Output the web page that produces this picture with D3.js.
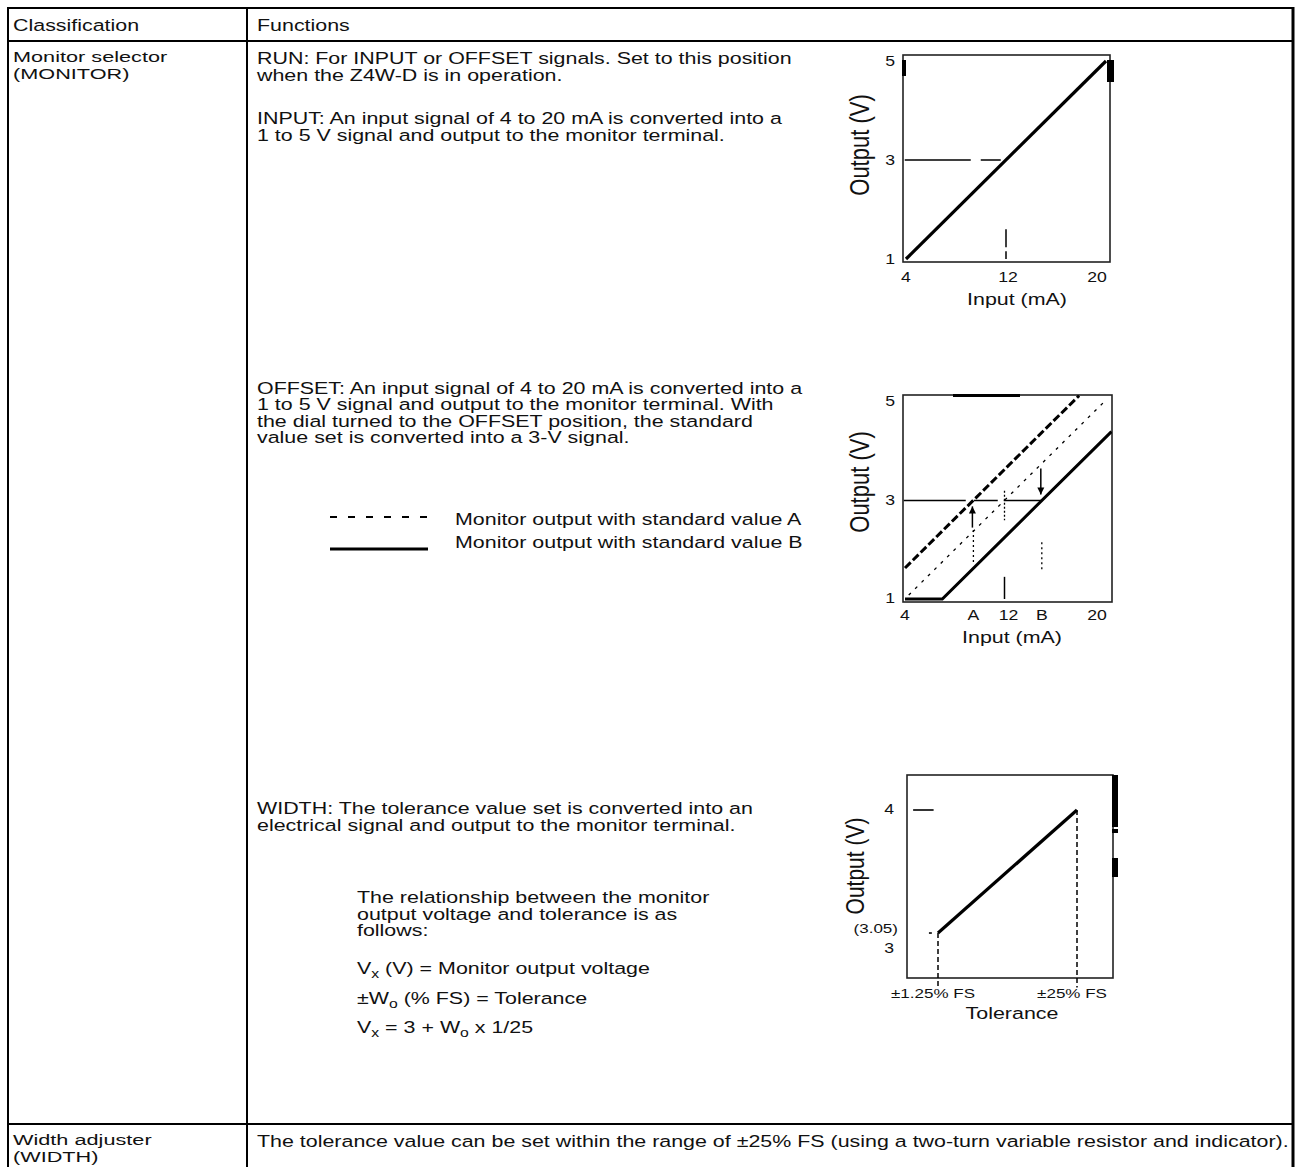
<!DOCTYPE html>
<html>
<head>
<meta charset="utf-8">
<script src="https://cdn.jsdelivr.net/npm/d3@7"></script>
<style>
  body { margin: 0; background: #fff; }
  text { font-family: "Liberation Sans", Arial, sans-serif; fill: #111; }
</style>
</head>
<body>
<div id="chart"></div>
<script>
// table text
var headers = ["Classification", "Functions"];
var row1Label = ["Monitor selector", "(MONITOR)"];
var row2Label = ["Width adjuster", "(WIDTH)"];
var runText = ["RUN: For INPUT or OFFSET signals. Set to this position", "when the Z4W-D is in operation."];
var inputText = ["INPUT: An input signal of 4 to 20 mA is converted into a", "1 to 5 V signal and output to the monitor terminal."];
var offsetText = ["OFFSET: An input signal of 4 to 20 mA is converted into a",
  "1 to 5 V signal and output to the monitor terminal. With",
  "the dial turned to the OFFSET position, the standard",
  "value set is converted into a 3-V signal."];
var legendLabels = ["Monitor output with standard value A", "Monitor output with standard value B"];
var widthText = ["WIDTH: The tolerance value set is converted into an", "electrical signal and output to the monitor terminal."];
var relationText = ["The relationship between the monitor", "output voltage and tolerance is as", "follows:"];
var adjusterText = "The tolerance value can be set within the range of \u00b125% FS (using a two-turn variable resistor and indicator).";

// chart 1 : INPUT
var inputTicks = [4, 12, 20];
var outputTicks = [1, 3, 5];
var runLine = [[4, 1], [20, 5]];

// chart 2 : OFFSET
var stdA = 9.5, stdB = 15;
var offsetTicks = [[4, "4"], [stdA, "A"], [12, "12"], [stdB, "B"], [20, "20"]];
var lineA = [[4, 1.63], [18, 5.13]];
var lineStd = [[4.3, 1.08], [20, 5.0]];
var lineB = [[4, 1], [7, 1], [20.6, 4.4]];

// chart 3 : WIDTH
var tolTicks = [[1.25, "\u00b11.25% FS"], [25, "\u00b125% FS"]];
var widthLine = [[1.25, 3.05], [25, 4]];

var SX = 1.26;   // the source lettering is set wide
var FS = 17;

var svg = d3.select("#chart").append("svg")
    .attr("width", 1296)
    .attr("height", 1167);

svg.append("rect").attr("width", 1296).attr("height", 1167).attr("fill", "#fff");

// table rules
var rules = [
  [8, 8, 1294, 8, 2], [8, 41, 1294, 41, 2], [8, 1124, 1294, 1124, 2],
  [8, 7, 8, 1167, 2], [247, 7, 247, 1167, 2], [1293, 7, 1293, 1167, 3]
];
svg.selectAll(".rule").data(rules).enter().append("line")
    .attr("x1", function(d) { return d[0]; })
    .attr("y1", function(d) { return d[1]; })
    .attr("x2", function(d) { return d[2]; })
    .attr("y2", function(d) { return d[3]; })
    .attr("stroke", "#000")
    .attr("stroke-width", function(d) { return d[4]; });

// wide text: a group moved to (x,y) and stretched sideways
function wide(x, y, size, anchor, sx) {
  return svg.append("g")
      .attr("transform", "translate(" + x + "," + y + ") scale(" + (sx || SX) + ",1)")
    .append("text")
      .attr("font-size", size || FS)
      .attr("text-anchor", anchor || "start");
}

function block(lines, x, y, lh, size, sx) {
  lines.forEach(function(s, i) {
    wide(x, y + i * lh, size, "start", sx).text(s);
  });
}

block([headers[0]], 13, 31, 16);
block([headers[1]], 257, 31, 16);
block(row1Label, 13, 62, 17, 15.5, 1.4);
block(row2Label, 13, 1145, 17, 15.5, 1.4);
block(runText, 257, 64, 16.5);
block(inputText, 257, 124, 17);
block(offsetText, 257, 394, 16.4);
block(widthText, 257, 814, 17);
block(relationText, 357, 903, 16.5);
block([adjusterText], 257, 1147, 16);

// formulas with subscripts
function formula(parts, x, y) {
  var t = wide(x, y);
  parts.forEach(function(p) {
    var s = t.append("tspan").text(p[0]);
    if (p[1]) s.attr("baseline-shift", "-30%").attr("font-size", 12.5);
  });
}
formula([["V"], ["x", 1], [" (V) = Monitor output voltage"]], 357, 974);
formula([["\u00b1W"], ["o", 1], [" (% FS) = Tolerance"]], 357, 1004);
formula([["V"], ["x", 1], [" = 3 + W"], ["o", 1], [" x 1/25"]], 357, 1033);

// legend
legendLabels.forEach(function(d, i) {
  var yy = 517 + i * 32;
  svg.append("line")
      .attr("x1", 330).attr("x2", 428).attr("y1", yy).attr("y2", yy)
      .attr("stroke", "#000")
      .attr("stroke-width", i ? 3 : 2)
      .attr("stroke-dasharray", i ? null : "7,11");
  wide(455, yy + (i ? -1 : 8)).text(d);
});

var line = d3.line();

function frame(b) {
  svg.append("rect")
      .attr("x", b.x0).attr("y", b.y0)
      .attr("width", b.x1 - b.x0).attr("height", b.y1 - b.y0)
      .attr("fill", "none").attr("stroke", "#222").attr("stroke-width", 1.6);
}

function yTitle(x, y, s, size) {
  svg.append("text")
      .attr("transform", "translate(" + x + "," + y + ") scale(" + SX + ",1) rotate(-90)")
      .attr("text-anchor", "middle").attr("font-size", size || 22)
      .text(s);
}

function path(data, x, y, w, dash) {
  svg.append("path")
      .attr("d", line.x(function(d) { return x(d[0]); }).y(function(d) { return y(d[1]); })(data))
      .attr("fill", "none").attr("stroke", "#000")
      .attr("stroke-width", w)
      .attr("stroke-dasharray", dash || null);
}

function blot(x, y, w, h) {
  svg.append("rect").attr("x", x).attr("y", y).attr("width", w).attr("height", h).attr("fill", "#000");
}

var TS = 14;

// ---------- chart 1
var b1 = { x0: 903, x1: 1110, y0: 55, y1: 262 };
var x1 = d3.scaleLinear().domain([4, 20]).range([906, 1106]);
var y1 = d3.scaleLinear().domain([1, 5]).range([259, 61]);
frame(b1);
outputTicks.forEach(function(d) {
  wide(895, y1(d) + 5, TS, "end").text(d);
});
inputTicks.forEach(function(d, i) {
  wide(x1(d) + [0, 2, -9][i], 282, TS, "middle").text(d);
});
path([[3.9, 3], [12, 3]], x1, y1, 1.5, "66,10,20,8");
path([[12, 1.6], [12, 1]], x1, y1, 1.5, "18,4,9");
path(runLine, x1, y1, 3.2);
wide(1017, 305, 17, "middle").text("Input (mA)");
yTitle(869, 145, "Output (V)");
blot(b1.x1 - 3, 60, 7, 22);
blot(b1.x0 - 1, 60, 4, 16);

// ---------- chart 2
var b2 = { x0: 903, x1: 1112, y0: 395, y1: 602 };
var x2 = d3.scaleLinear().domain([4, 20]).range([905, 1104]);
var y2 = d3.scaleLinear().domain([1, 5]).range([599, 402]);
frame(b2);
svg.append("clipPath").attr("id", "clip2").append("rect")
    .attr("x", b2.x0).attr("y", b2.y0).attr("width", b2.x1 - b2.x0).attr("height", b2.y1 - b2.y0);
outputTicks.forEach(function(d) {
  wide(895, y2(d) + 4, TS, "end").text(d);
});
offsetTicks.forEach(function(d, i) {
  wide(x2(d[0]) + [0, 0, 4, 0, -7][i], 620, TS, "middle").text(d[1]);
});
path([[3.9, 3], [stdB, 3]], x2, y2, 1.5, "62,8,24,6");
path([[12, 1], [12, 1.45]], x2, y2, 1.5);
path([[12, 3.2], [12, 2.6]], x2, y2, 1.3, "2,2");
path([[stdA, 2.4], [stdA, 1.75]], x2, y2, 1.3, "2,3");
path([[stdB, 2.15], [stdB, 1.6]], x2, y2, 1.3, "2,3");
path(lineStd, x2, y2, 1.3, "3,6");
var g2 = svg.append("g").attr("clip-path", "url(#clip2)");
[[lineA, 3, "8,3"], [lineB, 3, null]].forEach(function(p) {
  g2.append("path")
      .attr("d", line.x(function(d) { return x2(d[0]); }).y(function(d) { return y2(d[1]); })(p[0]))
      .attr("fill", "none").attr("stroke", "#000")
      .attr("stroke-width", p[1]).attr("stroke-dasharray", p[2]);
});
// arrows: A rises to 3 V, B falls to 3 V
var arrows = [[stdA, 2.45, 2.88], [stdB, 3.65, 3.12]];
arrows.forEach(function(a) {
  var xa = x2(a[0]) - 1, ys = y2(a[1]), ye = y2(a[2]);
  var dir = ye < ys ? 1 : -1;
  svg.append("line").attr("x1", xa).attr("x2", xa).attr("y1", ys).attr("y2", ye)
      .attr("stroke", "#000").attr("stroke-width", 1.5);
  svg.append("path")
      .attr("d", "M" + (xa - 3.5) + "," + (ye + dir * 7) + "L" + xa + "," + ye + "L" + (xa + 3.5) + "," + (ye + dir * 7) + "Z")
      .attr("fill", "#000");
});
wide(1012, 643, 17, "middle").text("Input (mA)");
yTitle(869, 482, "Output (V)");
blot(953, b2.y0 - 1, 67, 3);

// ---------- chart 3
var b3 = { x0: 907, x1: 1113, y0: 775, y1: 978 };
var x3 = d3.scaleLinear().domain([1.25, 25]).range([938, 1077]);
var y3 = d3.scaleLinear().domain([3, 4]).range([939.5, 810]);
frame(b3);
wide(894, y3(4) + 4, TS, "end").text("4");
wide(898, y3(3.05) + 0, 13.5, "end").text("(3.05)");
wide(894, y3(3) + 13, TS, "end").text("3");
path([[-3, 4], [0.5, 4]], x3, y3, 1.6);
path([[-0.3, 3.05], [0.2, 3.05]], x3, y3, 1.6);
widthLine.forEach(function(d) {
  path([[d[0], d[1]], [d[0], 2.63]], x3, y3, 1.5, "5,3");
});
path(widthLine, x3, y3, 3.2);
tolTicks.forEach(function(d) {
  wide(x3(d[0]) - 5, 998, 13.5, "middle").text(d[1]);
});
wide(1012, 1019, 17, "middle").text("Tolerance");
yTitle(864, 866, "Output (V)", 21);

// heavy marks along the right edge of the width chart
[[775, 52], [829, 4], [858, 19]].forEach(function(r) {
  blot(b3.x1 - 1, r[0], 6, r[1]);
});
</script>
</body>
</html>
